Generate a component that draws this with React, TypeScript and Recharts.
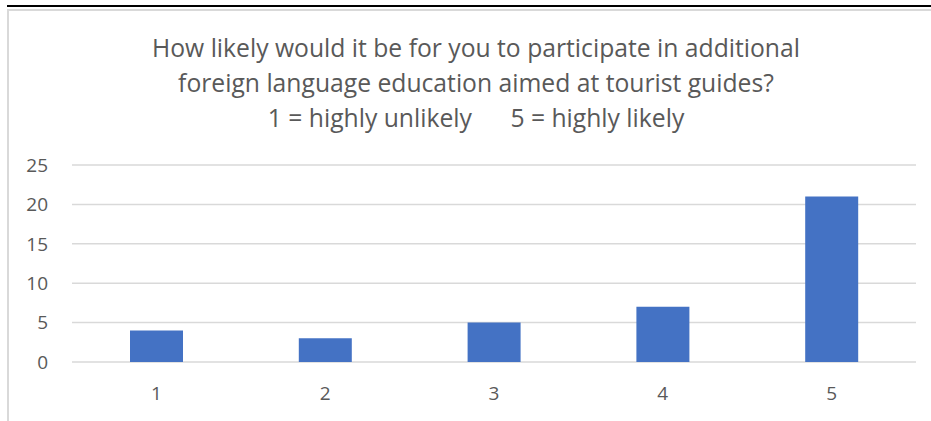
import React from "react";
import { BarChart, Bar, XAxis, YAxis, CartesianGrid } from "recharts";

const categories = ["1", "2", "3", "4", "5"];
const counts = [4, 3, 5, 7, 21];
const yTicks = [0, 5, 10, 15, 20, 25];
const titleLines = [
  "How likely would it be for you to participate in additional",
  "foreign language education aimed at tourist guides?",
  "1 = highly unlikely      5 = highly likely",
];

const data = categories.map((c, i) => ({ category: c, value: counts[i] }));

const FONT = "'Open Sans', 'Liberation Sans', Arial, sans-serif";
const TEXT = "#595959";

export default function App() {
  return (
    <div
      style={{
        position: "absolute",
        left: 0,
        top: 0,
        width: 931,
        height: 421,
        background: "#fff",
        overflow: "hidden",
        fontFamily: FONT,
      }}
    >
      <div style={{ position: "absolute", left: 7, top: 5, width: 924, height: 2, background: "#000" }} />
      <div style={{ position: "absolute", left: 7, top: 9, width: 924, height: 2, background: "#D9D9D9" }} />
      <div style={{ position: "absolute", left: 7, top: 9, width: 2, height: 412, background: "#D9D9D9" }} />
      <div style={{ position: "absolute", left: 0, top: 0 }}>
        <BarChart
          width={931}
          height={421}
          data={data}
          margin={{ top: 165, right: 15, bottom: 29, left: 0 }}
        >
          <CartesianGrid vertical={false} stroke="#D9D9D9" strokeWidth={1.5} />
          <XAxis
            dataKey="category"
            height={30}
            axisLine={false}
            tickLine={false}
            tickSize={0}
            tickMargin={25}
            tick={{ fill: TEXT, fontSize: 19, fontFamily: FONT }}
          />
          <YAxis
            width={72}
            domain={[0, 25]}
            ticks={yTicks}
            axisLine={false}
            tickLine={false}
            tickSize={0}
            tickMargin={24}
            tick={{ fill: TEXT, fontSize: 19, fontFamily: FONT }}
          />
          <Bar dataKey="value" fill="#4472C4" barSize={53} isAnimationActive={false} />
        </BarChart>
      </div>
      {titleLines.map((line, i) => (
        <div
          key={i}
          style={{
            position: "absolute",
            left: 76,
            width: 800,
            top: 33 + i * 35,
            height: 30,
            lineHeight: "30px",
            textAlign: "center",
            fontSize: 24.7,
            color: TEXT,
            whiteSpace: "pre",
          }}
        >
          {line}
        </div>
      ))}
    </div>
  );
}
